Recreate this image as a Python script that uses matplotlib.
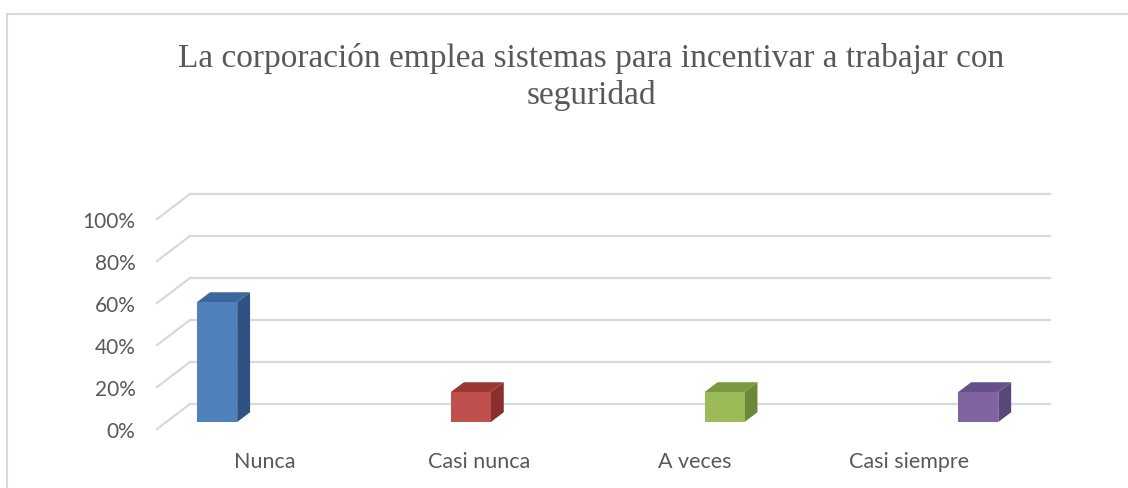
import matplotlib
matplotlib.use("Agg")
import matplotlib.pyplot as plt
from matplotlib.patches import Polygon
from matplotlib.lines import Line2D

# datos
categorias = ["Nunca", "Casi nunca", "A veces", "Casi siempre"]
valores = [57.14, 14.29, 14.29, 14.29]
ticks = [0, 20, 40, 60, 80, 100]
titulo = "La corporación emplea sistemas para incentivar a trabajar con\nseguridad"

# colores (frente, lado, arriba)
col_front = ["#4F81BD", "#C0504D", "#9BBB59", "#8064A2"]
col_side = ["#2F5283", "#8A2F2C", "#6B8838", "#59467A"]
col_top = ["#3C679C", "#9B3835", "#789A40", "#66508A"]

W, H = 1128, 489
fig = plt.figure(figsize=(W / 100, H / 100), dpi=100)
ax = fig.add_axes([0, 0, 1, 1])

# escala: plano frontal en px -> datos
X0, CW = 157, 215        # borde izq. del piso y ancho de categoria
Y0, PPU = 430, 2.1       # 0% en px, px por %
ax.set_xlim((0 - X0) / CW - 0.5, (W - X0) / CW - 0.5)
ax.set_ylim((Y0 - H) / PPU, (Y0 - 0) / PPU)
ax.axis("off")

DX = 33 / CW             # profundidad total
DY = 25 / PPU
grid_c = "#D9D9D9"
txt_c = "#595959"

# rejilla en pared trasera + diagonales del piso
for t in ticks:
    ax.plot([-0.5 + DX, 3.5 + DX], [t + DY, t + DY], color=grid_c, lw=1.6, zorder=1)
    ax.plot([-0.5, -0.5 + DX], [t, t + DY], color=grid_c, lw=1.6, zorder=1)
    ax.text(-0.6, t - 0.8, f"{t}%", ha="right", va="center", fontsize=15,
            family="Lato", color=txt_c)

# barras 3D
d1, d2 = 0.28, 0.67
bw = 40 / CW
b_start, b_step = -0.263, 1.18
for i, (v, cat) in enumerate(zip(valores, categorias)):
    cx = b_start + b_step * i + d1 * DX
    xl, xr = cx - bw / 2, cx + bw / 2
    yb = d1 * DY
    yt = v + d1 * DY
    ox, oy = (d2 - d1) * DX, (d2 - d1) * DY
    ax.add_patch(Polygon([(xr, yb), (xr, yt), (xr + ox, yt + oy), (xr + ox, yb + oy)],
                         closed=True, fc=col_side[i], ec="none", zorder=3))
    ax.add_patch(Polygon([(xl, yt), (xr, yt), (xr + ox, yt + oy), (xl + ox, yt + oy)],
                         closed=True, fc=col_top[i], ec="none", zorder=3))
    ax.add_patch(Polygon([(xl, yb), (xr, yb), (xr, yt), (xl, yt)],
                         closed=True, fc=col_front[i], ec="none", zorder=4))
    ax.text(i, -15.3, cat, ha="center", va="center", fontsize=15.5,
            family="Lato", color=txt_c)

# titulo
fig.text(591 / W, 1 - 77 / H, titulo, ha="center", va="center", fontsize=24,
         family="Liberation Serif", color=txt_c, linespacing=1.25)

# borde del grafico
fig.add_artist(Line2D([7 / W, 1], [1 - 15 / H, 1 - 15 / H], transform=fig.transFigure,
                      color=grid_c, lw=1.5))
fig.add_artist(Line2D([7 / W, 7 / W], [0, 1 - 15 / H], transform=fig.transFigure,
                      color=grid_c, lw=1.5))

fig.savefig("out.png", dpi=100, facecolor="white")
